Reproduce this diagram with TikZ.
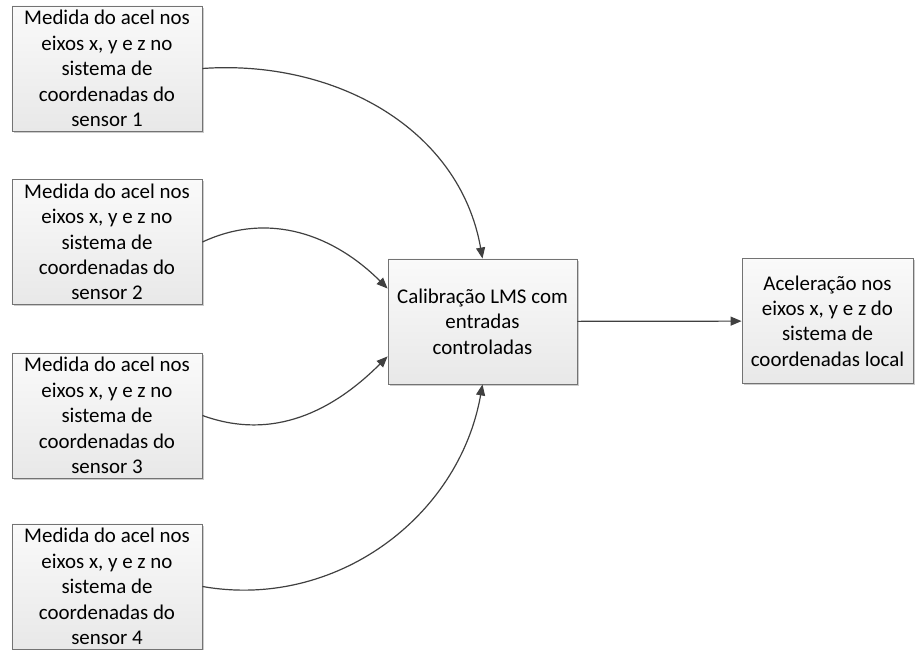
\documentclass[tikz,border=0pt]{standalone}
\usepackage{fontspec}
\setmainfont{Carlito}
\usetikzlibrary{calc, positioning, arrows.meta, shadows}

\begin{document}
\begin{tikzpicture}[x=1bp, y=1bp,
    every node/.style={font=\fontsize{21}{25.5}\selectfont, align=center, inner sep=0pt},
    bloco/.style={draw=black!55, line width=0.9bp, top color=black!2, bottom color=black!9,
        minimum height=125bp, drop shadow={shadow xshift=2bp, shadow yshift=-2bp, fill=black!20, opacity=1}},
    seta/.style={draw=black!75, line width=1.2bp, -{Triangle[length=11bp,width=9bp]}}]
    \useasboundingbox (0,0) rectangle (917,650);
    \foreach \i/\y in {1/581.5,2/408,3/234.5,4/63.5} {
        \node[bloco, minimum width=190bp] (s\i) at (107,\y) {Medida do acel nos\\eixos x, y e z no\\sistema de\\coordenadas do\\sensor \i};
    }
    \node[bloco, minimum width=189bp] (calib) at (482.5,328.5) {Calibração LMS com\\entradas\\controladas};
    \node[bloco, minimum width=171bp] (local) at (827.5,329) {Aceleração nos\\eixos x, y e z do\\sistema de\\coordenadas local};
    \coordinate (c2) at ([yshift=-30bp]calib.north west);
    \coordinate (c3) at ([yshift=28bp]calib.south west);
    \draw[seta] (s1.east) to[out=4, in=100] (calib.north);
    \draw[seta] (s2.east) to[out=25, in=135] (c2);
    \draw[seta] (s3.east) to[out=-20, in=-135] (c3);
    \draw[seta] (s4.east) to[out=-10, in=-100] (calib.south);
    \draw[seta] (calib) -- (local);
\end{tikzpicture}
\end{document}
